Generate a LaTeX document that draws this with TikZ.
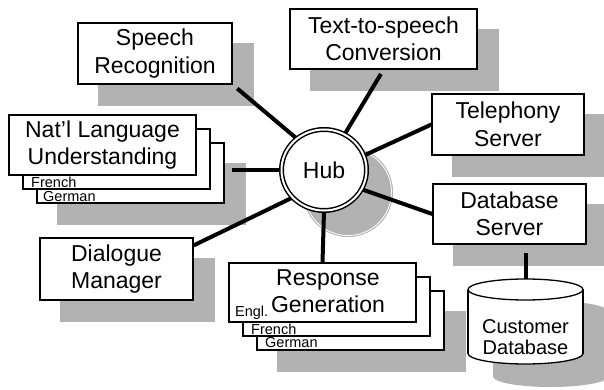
\documentclass[tikz,border=0pt]{standalone}
\usepackage{fontspec}
\setmainfont{Liberation Sans}
\usetikzlibrary{calc,shapes.geometric}
\pgfdeclarelayer{bg}
\pgfsetlayers{bg,main}
\definecolor{shadowgray}{RGB}{178,178,178}
\begin{document}
\begin{tikzpicture}[x=1pt,y=-1pt,
  box/.style={draw, line width=1.3pt, fill=white, rectangle, inner sep=0pt,
    font=\fontsize{23}{27.5}\selectfont, align=center},
  layerbox/.style={draw, line width=1.3pt, fill=white, rectangle, inner sep=0pt},
  bigtext/.style={inner sep=0pt, font=\fontsize{23}{27.5}\selectfont, align=center},
  small/.style={font=\fontsize{14.5}{16}\selectfont, inner sep=0pt, anchor=west},
  conn/.style={line width=4pt},
  shadowfill/.style={fill=shadowgray}]
\useasboundingbox (0,0) rectangle (604,390);

% stacks (back to front)
\node[layerbox, minimum width=187pt, minimum height=60pt] (nlu3) at (130.5,173) {};
\node[layerbox, minimum width=187pt, minimum height=60pt] (nlu2) at (116.5,159) {};
\node[box, minimum width=187pt, minimum height=60pt] (nlu) at (102.5,145) {Nat'l Language\\Understanding};
\node[small] (nlufr) at (31,182) {French};
\node[small] (nlude) at (43,197) {German};

\node[layerbox, minimum width=187pt, minimum height=59pt] (rg3) at (350.5,320.5) {};
\node[layerbox, minimum width=187pt, minimum height=59pt] (rg2) at (336.5,306.5) {};
\node[box, minimum width=187pt, minimum height=59pt] (rg) at (322.5,292.5) {};
\node[bigtext] (rgt) at (328,291) {Response\\Generation};
\node[small] (rgen) at (235,313) {Engl.};
\node[small] (rgfr) at (251,329) {French};
\node[small] (rgde) at (265,343) {German};

% single boxes
\node[box, minimum width=154pt, minimum height=61pt] (sr) at (155,53.5) {Speech\\Recognition};
\node[box, minimum width=187pt, minimum height=60pt] (tts) at (383.5,39) {Text-to-speech\\Conversion};
\node[box, minimum width=152pt, minimum height=61pt] (tel) at (508,124.5) {Telephony\\Server};
\node[box, minimum width=153pt, minimum height=60pt] (dbs) at (509.5,214) {Database\\Server};
\node[box, minimum width=153pt, minimum height=62pt] (dm) at (116.5,269) {Dialogue\\Manager};

% hub
\node[ellipse, draw=black, line width=1.5pt, double=white, double distance=2pt,
  fill=white, minimum width=85pt, minimum height=81pt, inner sep=0pt,
  font=\fontsize{23}{27.5}\selectfont] (hub) at (324,170) {Hub};

% customer database cylinder
\coordinate (cyltop) at (525.5,279);
\begin{pgfonlayer}{bg}
  % cylinder shadow
  \fill[shadowgray] (550.5,376.5) ellipse [x radius=57.5pt, y radius=10.5pt];
  \fill[shadowgray] (493,311.5) rectangle (608,376.5);
  \fill[shadowgray] (550.5,311.5) ellipse [x radius=57.5pt, y radius=10.5pt];
\end{pgfonlayer}
\draw[line width=1.3pt, fill=white] (525.5,353.5) ellipse [x radius=57.5pt, y radius=10.5pt];
\fill[white] (468,289.5) rectangle (583,353.5);
\draw[line width=1.3pt] (468,289.5) -- (468,353.5) (583,289.5) -- (583,353.5);
\draw[line width=1.3pt, fill=white] (525.5,289.5) ellipse [x radius=57.5pt, y radius=10.5pt];
\node[inner sep=0pt, font=\fontsize{20}{21}\selectfont, align=center] (cust) at (525.5,337) {Customer\\Database};

\begin{pgfonlayer}{bg}
  % shadows
  \foreach \n in {sr,tts,tel,dbs,dm,nlu3,rg3}{
    \fill[shadowfill] ($(\n.north west)+(21,21)$) rectangle ($(\n.south east)+(21,21)$);
  }
  \fill[shadowgray] (348,192) circle [radius=45pt];
  \draw[white, line width=0.8pt] (348,192) circle [radius=43.5pt];
  % connectors
  \draw[conn, shorten <=6pt] (sr.south east) -- (hub.131);
  \draw[conn, shorten <=5pt] (tts.south) -- (hub.60);
  \draw[conn] (tel.west) -- (hub.20);
  \draw[conn] (dbs.west) -- (hub.333);
  \draw[conn, shorten >=7pt] (hub.west) -- (hub.west -| nlu3.east);
  \draw[conn] (dm.17) -- (hub.221);
  \draw[conn] (hub.south) -- (rg.north);
  \draw[conn, shorten >=8pt] (cyltop) -- (cyltop |- dbs.south);
\end{pgfonlayer}
\end{tikzpicture}
\end{document}
